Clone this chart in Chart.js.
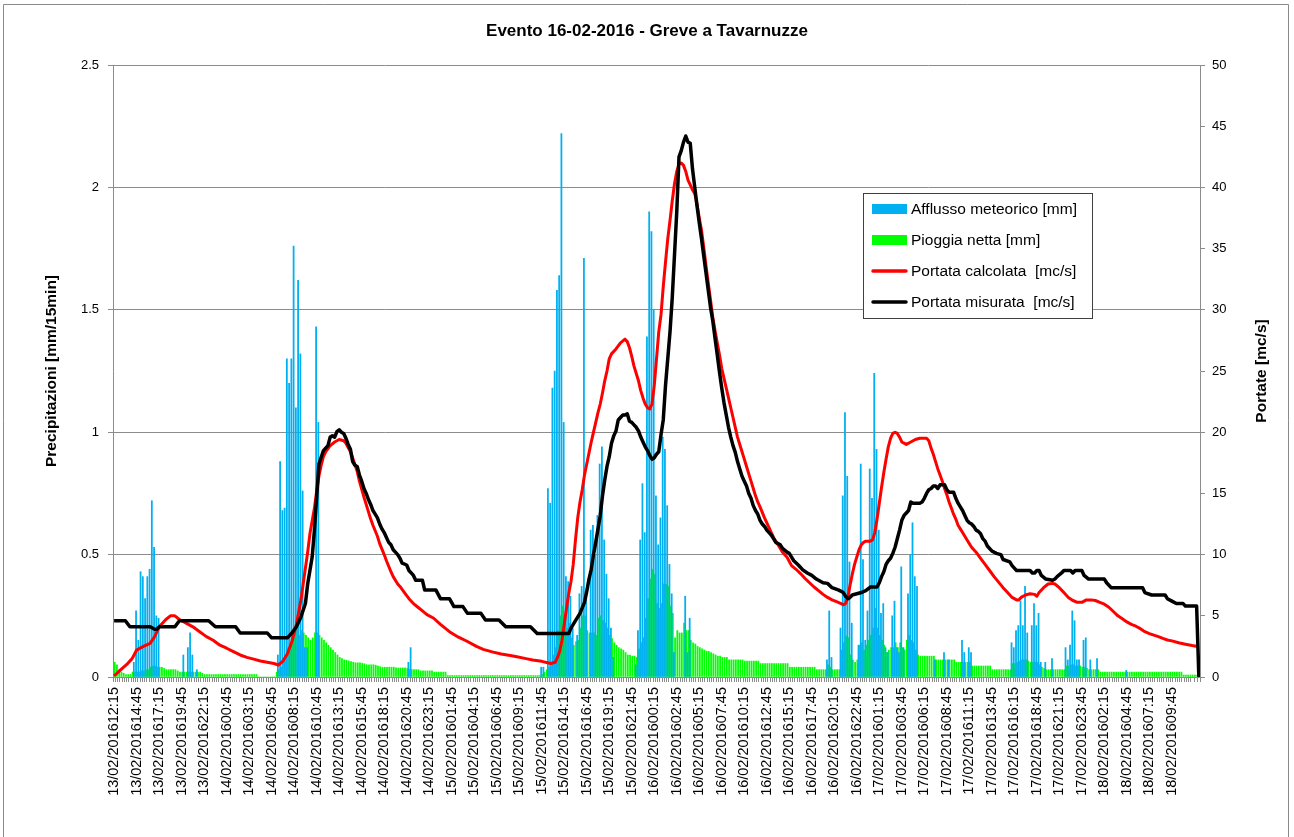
<!DOCTYPE html>
<html>
<head>
<meta charset="utf-8">
<title>Evento 16-02-2016 - Greve a Tavarnuzze</title>
<script src="https://cdn.jsdelivr.net/npm/chart.js@4.4.0/dist/chart.umd.min.js"></script>
<style>
  html, body { margin: 0; padding: 0; background: #fff; }
  canvas { display: block; }
</style>
</head>
<body>
<canvas id="hydrograph" width="1294" height="837"></canvas>
<script>
const FONT = '"Liberation Sans", Arial, sans-serif'
const AXIS_GREY = '#8c8c8c'

// 15-minute steps from 13/02/2016 12:15 to 18/02/2016 12:45
const N_STEPS = 483

// one label every 10 steps
const tickLabels = [
  '13/02/201612:15', '13/02/201614:45', '13/02/201617:15', '13/02/201619:45', '13/02/201622:15',
  '14/02/201600:45', '14/02/201603:15', '14/02/201605:45', '14/02/201608:15', '14/02/201610:45',
  '14/02/201613:15', '14/02/201615:45', '14/02/201618:15', '14/02/201620:45', '14/02/201623:15',
  '15/02/201601:45', '15/02/201604:15', '15/02/201606:45', '15/02/201609:15', '15/02/201611:45',
  '15/02/201614:15', '15/02/201616:45', '15/02/201619:15', '15/02/201621:45',
  '16/02/201600:15', '16/02/201602:45', '16/02/201605:15', '16/02/201607:45', '16/02/201610:15',
  '16/02/201612:45', '16/02/201615:15', '16/02/201617:45', '16/02/201620:15', '16/02/201622:45',
  '17/02/201601:15', '17/02/201603:45', '17/02/201606:15', '17/02/201608:45', '17/02/201611:15',
  '17/02/201613:45', '17/02/201616:15', '17/02/201618:45', '17/02/201621:15', '17/02/201623:45',
  '18/02/201602:15', '18/02/201604:45', '18/02/201607:15', '18/02/201609:45'
]

// afflusso meteorico [mm/15min]: [first step, consecutive values]
const afflussoRuns = [
  [9, [0.06, 0.27, 0.15, 0.43, 0.41, 0.32, 0.41, 0.44, 0.72, 0.53, 0.25, 0.24]],
  [31, [0.09, 0, 0.12, 0.18, 0.09, 0, 0.03]],
  [73, [0.09, 0.88, 0.68, 0.69, 1.30, 1.20, 1.30, 1.76, 1.10, 1.62, 1.32, 0.76, 0.12, 0.12, 0, 0, 0, 1.43, 1.04]],
  [131, [0.06, 0.12]],
  [190, [0.04, 0.04, 0, 0.77, 0.71, 1.18, 1.25, 1.58, 1.64, 2.22, 1.04, 0.41, 0.39, 0.33, 0.20, 0, 0.17,
         0.34, 0.37, 1.71, 0.35, 0, 0.60, 0.62, 0.50, 0.66, 0.87, 0.94, 0.56, 0.42, 0.32, 0.20, 0.08]],
  [232, [0.05, 0.19, 0.56, 0.79, 0.59, 1.39, 1.90, 1.82, 1.50, 0.74, 0.54, 0.65, 0.98, 0.93, 0.70, 0.46, 0.34, 0.10]],
  [254, [0.33, 0.10, 0.24]],
  [317, [0.07, 0.27, 0.08]],
  [323, [0.20, 0.74, 1.08, 0.82, 0.47, 0.22]],
  [331, [0.13, 0.87, 0.48, 0.15, 0.27, 0.85, 0.73, 1.24, 0.93, 0.60, 0.26, 0.30, 0.12, 0.10, 0, 0.25,
         0.31, 0.12, 0.10, 0.45, 0.12, 0, 0.34, 0.50, 0.63, 0.41, 0.37]],
  [365, [0.07]], [369, [0.10]], [371, [0.07]],
  [377, [0.15, 0.10, 0, 0.12, 0.10]],
  [399, [0.14, 0.12, 0.19, 0.21, 0.31, 0.21, 0.37, 0.18, 0, 0.21, 0.30, 0.21, 0.26, 0.06, 0, 0.06]],
  [417, [0.075]],
  [423, [0.12, 0.07, 0.13, 0.27, 0.23, 0.07, 0.07, 0, 0.15, 0.16, 0, 0.07]],
  [437, [0.075]], [450, [0.027]]
]

// pioggia netta [mm/15min], one value per step
const pioggiaNetta = [
  0.06, 0.05, 0.03, 0.02, 0.015, 0.01, 0.01, 0.01, 0.02, 0.02,
  0.02, 0.02, 0.025, 0.025, 0.03, 0.03, 0.04, 0.045, 0.045, 0.04,
  0.04, 0.04, 0.035, 0.03, 0.03, 0.03, 0.03, 0.03, 0.025, 0.02,
  0.02, 0.02, 0.02, 0.02, 0.02, 0.02, 0.02, 0.02, 0.02, 0.015,
  0.01, 0.01, 0.01, 0.01, 0.01, 0.01, 0.01, 0.01, 0.01, 0.01,
  0.01, 0.01, 0.01, 0.01, 0.01, 0.01, 0.01, 0.01, 0.01, 0.01,
  0.01, 0.01, 0.01, 0.01, 0, 0, 0, 0, 0, 0,
  0, 0, 0.02, 0.03, 0.04, 0.06, 0.09, 0.12, 0.14, 0.16,
  0.19, 0.20, 0.17, 0.19, 0.18, 0.17, 0.16, 0.15, 0.16, 0.18,
  0.18, 0.17, 0.16, 0.15, 0.14, 0.13, 0.12, 0.11, 0.10, 0.09,
  0.08, 0.075, 0.07, 0.068, 0.066, 0.063, 0.06, 0.058, 0.058, 0.058,
  0.056, 0.054, 0.05, 0.05, 0.05, 0.05, 0.048, 0.045, 0.042, 0.04,
  0.04, 0.04, 0.04, 0.04, 0.04, 0.037, 0.037, 0.037, 0.037, 0.037,
  0.035, 0.032, 0.03, 0.03, 0.03, 0.03, 0.025, 0.025, 0.025, 0.025,
  0.025, 0.025, 0.02, 0.02, 0.02, 0.02, 0.02, 0.02, 0.006, 0.006,
  0.006, 0.006, 0.006, 0.006, 0.006, 0.006, 0.006, 0.006, 0.006, 0.006,
  0.006, 0.006, 0.006, 0.006, 0.006, 0.006, 0.006, 0.006, 0.006, 0.006,
  0.006, 0.006, 0.006, 0.006, 0.006, 0.006, 0.006, 0.006, 0.006, 0.006,
  0.006, 0.006, 0.006, 0.006, 0.006, 0.006, 0.006, 0.006, 0.006, 0.006,
  0.01, 0.02, 0.03, 0.04, 0.05, 0.09, 0.12, 0.19, 0.25, 0.29,
  0.24, 0.20, 0.22, 0.16, 0.13, 0.145, 0.15, 0.20, 0.25, 0.25,
  0.19, 0.18, 0.18, 0.18, 0.17, 0.24, 0.25, 0.23, 0.22, 0.20,
  0.17, 0.157, 0.14, 0.13, 0.12, 0.115, 0.11, 0.10, 0.09, 0.09,
  0.085, 0.085, 0.08, 0.115, 0.14, 0.16, 0.24, 0.32, 0.40, 0.44,
  0.42, 0.30, 0.28, 0.30, 0.38, 0.38, 0.37, 0.29, 0.26, 0.16,
  0.19, 0.18, 0.18, 0.22, 0.19, 0.19, 0.15, 0.14, 0.135, 0.125,
  0.12, 0.115, 0.11, 0.105, 0.105, 0.10, 0.095, 0.09, 0.085, 0.085,
  0.08, 0.08, 0.08, 0.07, 0.07, 0.07, 0.07, 0.07, 0.07, 0.07,
  0.065, 0.065, 0.065, 0.065, 0.065, 0.065, 0.065, 0.055, 0.055, 0.055,
  0.055, 0.055, 0.055, 0.055, 0.055, 0.055, 0.055, 0.055, 0.055, 0.055,
  0.04, 0.04, 0.04, 0.04, 0.04, 0.04, 0.04, 0.04, 0.04, 0.04,
  0.04, 0.04, 0.03, 0.03, 0.03, 0.03, 0.03, 0.05, 0.04, 0.03,
  0.03, 0.03, 0.03, 0.11, 0.14, 0.167, 0.16, 0.09, 0.07, 0.06,
  0.07, 0.13, 0.14, 0.11, 0.13, 0.15, 0.17, 0.20, 0.28, 0.20,
  0.17, 0.15, 0.13, 0.10, 0.11, 0.12, 0.12, 0.14, 0.12, 0.14,
  0.12, 0.11, 0.15, 0.17, 0.15, 0.14, 0.11, 0.09, 0.085, 0.085,
  0.085, 0.085, 0.085, 0.085, 0.085, 0.07, 0.07, 0.07, 0.07, 0.07,
  0.07, 0.07, 0.07, 0.07, 0.06, 0.06, 0.06, 0.06, 0.06, 0.06,
  0.06, 0.045, 0.045, 0.045, 0.045, 0.045, 0.045, 0.045, 0.045, 0.045,
  0.03, 0.03, 0.03, 0.03, 0.03, 0.03, 0.03, 0.03, 0.03, 0.055,
  0.055, 0.06, 0.065, 0.07, 0.07, 0.07, 0.065, 0.06, 0.06, 0.06,
  0.06, 0.05, 0.04, 0.035, 0.03, 0.03, 0.03, 0.03, 0.03, 0.03,
  0.03, 0.03, 0.03, 0.045, 0.045, 0.05, 0.05, 0.045, 0.045, 0.045,
  0.04, 0.04, 0.035, 0.03, 0.03, 0.03, 0.03, 0.03, 0.02, 0.02,
  0.02, 0.02, 0.02, 0.02, 0.02, 0.02, 0.02, 0.02, 0.02, 0.02,
  0.02, 0.02, 0.02, 0.02, 0.02, 0.02, 0.02, 0.02, 0.02, 0.02,
  0.02, 0.02, 0.02, 0.02, 0.02, 0.02, 0.02, 0.02, 0.02, 0.02,
  0.02, 0.02, 0.02, 0.02, 0.02, 0.008, 0.008, 0.008, 0.008, 0.008,
  0.008, 0.008, 0.008
]

// portata calcolata [mc/s]: [step, value]
const portataCalcolata = [
  [0, 0.1], [3, 0.6], [6, 1.1], [8, 1.5], [10, 2.2], [13, 2.5], [16, 2.75], [18, 3.3], [20, 4.1], [23, 4.7],
  [25, 5.0], [27, 5.0], [29, 4.7], [32, 4.4], [35, 4.1], [38, 3.7], [41, 3.3], [44, 3.0], [47, 2.6], [50, 2.35],
  [53, 2.07], [56, 1.8], [59, 1.6], [62, 1.46], [65, 1.31], [68, 1.2], [71, 1.1], [73, 0.98], [75, 1.3], [77, 1.9],
  [79, 2.9], [81, 4.3], [83, 6.3], [84, 7.6], [86, 10.2], [87, 11.7], [89, 13.8], [90, 15.2], [91, 16.4], [92, 17.3],
  [93, 18.0], [94, 18.4], [96, 18.9], [98, 19.2], [100, 19.4], [102, 19.3], [103, 19.1], [105, 18.4], [106, 17.9],
  [108, 16.8], [109, 16.0], [111, 14.7], [112, 14.1], [114, 12.9], [115, 12.4], [117, 11.5], [118, 10.9], [120, 10.0],
  [121, 9.5], [123, 8.6], [124, 8.2], [126, 7.6], [127, 7.4], [129, 6.9], [131, 6.4], [133, 6.0], [135, 5.7],
  [137, 5.4], [139, 5.1], [142, 4.8], [145, 4.3], [149, 3.7], [153, 3.25], [157, 2.9], [161, 2.5], [164, 2.26],
  [168, 2.05], [172, 1.88], [176, 1.75], [179, 1.65], [183, 1.5], [186, 1.39], [190, 1.28], [194, 1.1], [196, 1.2],
  [197, 1.6], [198, 2.1], [199, 3.0], [200, 4.3], [201, 5.6], [202, 6.8], [203, 7.8], [204, 9.2], [205, 11.2],
  [206, 13.0], [207, 14.3], [208, 15.3], [209, 16.5], [210, 17.4], [211, 18.3], [212, 19.2], [213, 20.0], [214, 20.8],
  [215, 21.6], [216, 22.3], [217, 23.2], [218, 24.2], [219, 25.0], [220, 26.0], [221, 26.4], [223, 26.8], [225, 27.3],
  [227, 27.6], [228, 27.4], [229, 26.9], [230, 26.2], [231, 25.4], [232, 24.8], [233, 24.2], [234, 23.4], [235, 22.8],
  [236, 22.3], [237, 22.0], [238, 21.9], [239, 22.3], [240, 23.8], [241, 26.0], [242, 28.2], [243, 29.6], [244, 31.9],
  [245, 33.9], [246, 35.8], [247, 37.3], [248, 38.9], [249, 40.3], [250, 41.3], [251, 41.9], [252, 42.0], [253, 41.8],
  [254, 41.3], [255, 40.6], [256, 40.2], [257, 39.8], [258, 39.5], [259, 38.6], [260, 37.5], [261, 36.5], [262, 35.1],
  [263, 33.6], [264, 32.2], [265, 30.8], [266, 29.4], [267, 28.3], [268, 27.3], [269, 26.3], [270, 25.2], [271, 24.4],
  [272, 23.6], [273, 22.8], [274, 22.0], [275, 21.2], [276, 20.4], [277, 19.6], [278, 19.0], [279, 18.4], [280, 17.8],
  [281, 17.2], [282, 16.6], [283, 16.0], [284, 15.4], [285, 14.8], [286, 14.3], [287, 13.9], [289, 13.0], [291, 12.2],
  [293, 11.4], [295, 10.8], [297, 10.2], [299, 9.78], [301, 9.1], [303, 8.8], [305, 8.45], [307, 8.05], [309, 7.7],
  [311, 7.35], [313, 7.05], [315, 6.75], [317, 6.5], [319, 6.3], [321, 6.15], [323, 6.0], [324, 5.9], [325, 6.0],
  [326, 6.5], [327, 7.5], [328, 8.4], [329, 9.2], [330, 9.8], [331, 10.4], [332, 10.8], [333, 11.0], [334, 11.1],
  [336, 11.1], [337, 11.2], [338, 11.8], [339, 12.9], [340, 14.2], [341, 15.5], [342, 16.7], [343, 17.8], [344, 18.8],
  [345, 19.5], [346, 19.9], [347, 20.0], [348, 19.9], [349, 19.6], [350, 19.2], [352, 19.0], [354, 19.2], [356, 19.4],
  [358, 19.5], [361, 19.5], [362, 19.3], [363, 18.7], [364, 18.2], [365, 17.6], [366, 17.0], [367, 16.5], [368, 16.0],
  [369, 15.4], [370, 14.9], [371, 14.3], [372, 13.8], [373, 13.3], [374, 12.9], [375, 12.4], [376, 12.1], [377, 11.8],
  [379, 11.2], [381, 10.6], [383, 10.2], [385, 9.7], [387, 9.2], [389, 8.7], [391, 8.2], [393, 7.75], [395, 7.3],
  [397, 6.9], [399, 6.5], [401, 6.3], [402, 6.3], [403, 6.5], [405, 6.7], [407, 6.8], [409, 6.75], [410, 6.6],
  [411, 6.9], [413, 7.3], [415, 7.6], [417, 7.65], [418, 7.6], [420, 7.3], [422, 6.9], [424, 6.5], [426, 6.25],
  [428, 6.1], [430, 6.1], [432, 6.3], [434, 6.3], [436, 6.25], [438, 6.1], [440, 5.95], [442, 5.7], [444, 5.35],
  [446, 5.0], [448, 4.75], [450, 4.5], [452, 4.3], [454, 4.15], [456, 3.95], [458, 3.7], [460, 3.55], [462, 3.42],
  [464, 3.3], [466, 3.15], [468, 3.02], [470, 2.95], [473, 2.8], [476, 2.68], [479, 2.57], [482, 2.48]
]

// portata misurata [mc/s]: [step, value]
const portataMisurata = [
  [0, 4.6], [5, 4.6], [7, 4.1], [16, 4.1], [18, 3.9], [19, 3.9], [20, 4.1], [27, 4.1], [29, 4.6], [42, 4.6],
  [45, 4.1], [54, 4.1], [56, 3.6], [68, 3.6], [70, 3.2], [77, 3.2], [79, 3.6], [81, 4.1], [83, 4.9], [85, 6.0],
  [86, 7.6], [88, 9.8], [89, 12.0], [90, 14.7], [91, 17.4], [93, 18.5], [95, 18.9], [96, 19.6], [97, 19.7],
  [98, 19.6], [99, 20.05], [100, 20.2], [101, 20.0], [102, 19.9], [103, 19.5], [104, 19.0], [105, 18.6], [106, 17.6],
  [107, 17.3], [108, 17.2], [109, 16.5], [110, 16.0], [111, 15.4], [112, 15.0], [113, 14.5], [114, 14.1], [115, 13.6],
  [116, 13.3], [117, 13.0], [118, 12.5], [119, 12.1], [120, 11.8], [121, 11.4], [122, 11.0], [123, 10.8], [124, 10.4],
  [125, 10.2], [126, 10.0], [127, 9.7], [128, 9.3], [130, 9.15], [131, 8.7], [133, 8.3], [134, 7.9], [137, 7.9],
  [138, 7.1], [143, 7.1], [145, 6.4], [149, 6.4], [151, 5.75], [155, 5.75], [157, 5.2], [163, 5.2], [165, 4.65],
  [171, 4.65], [174, 4.1], [185, 4.1], [188, 3.55], [202, 3.55], [203, 4.0], [205, 4.6], [207, 5.2], [209, 6.1],
  [210, 7.0], [211, 8.0], [212, 8.8], [213, 10.0], [214, 11.0], [215, 12.1], [216, 13.2], [217, 14.8], [218, 16.1],
  [219, 17.2], [220, 18.0], [221, 19.1], [222, 19.7], [223, 20.1], [224, 21.0], [225, 21.2], [226, 21.4], [227, 21.4],
  [228, 21.5], [229, 20.9], [230, 20.8], [231, 20.6], [232, 20.4], [233, 20.1], [234, 19.6], [235, 19.2], [236, 18.8],
  [237, 18.5], [238, 18.1], [239, 17.8], [240, 17.9], [241, 18.2], [242, 18.4], [243, 19.8], [244, 21.0], [245, 23.8],
  [246, 26.0], [247, 28.2], [248, 31.0], [249, 34.5], [250, 38.0], [251, 42.5], [252, 43.0], [253, 43.7], [254, 44.2],
  [255, 43.7], [256, 43.6], [257, 41.5], [258, 40.0], [259, 38.5], [260, 37.1], [261, 35.8], [262, 34.4], [263, 33.0],
  [264, 31.6], [265, 30.2], [266, 29.1], [267, 27.7], [268, 26.3], [269, 24.9], [270, 23.6], [271, 22.4], [272, 21.4],
  [273, 20.4], [274, 19.6], [275, 18.9], [276, 18.35], [277, 17.6], [278, 17.0], [279, 16.4], [280, 16.0], [281, 15.6],
  [282, 15.0], [283, 14.6], [284, 14.0], [285, 13.6], [286, 13.3], [287, 12.8], [288, 12.5], [289, 12.3], [290, 12.0],
  [291, 11.8], [292, 11.6], [293, 11.3], [294, 11.0], [296, 10.8], [297, 10.5], [299, 10.2], [300, 10.1], [301, 9.8],
  [302, 9.5], [304, 9.15], [306, 8.75], [308, 8.5], [310, 8.3], [312, 8.0], [313, 7.9], [315, 7.7], [317, 7.65],
  [319, 7.3], [322, 7.1], [324, 6.9], [325, 6.6], [326, 6.4], [327, 6.5], [328, 6.7], [330, 6.8], [332, 6.9],
  [334, 7.05], [336, 7.35], [339, 7.35], [340, 7.7], [341, 8.2], [342, 8.6], [343, 9.2], [344, 9.5], [345, 9.7],
  [346, 10.1], [347, 10.6], [348, 11.3], [349, 12.0], [350, 12.8], [351, 13.2], [352, 13.4], [353, 13.6], [354, 14.3],
  [355, 14.2], [358, 14.2], [359, 14.3], [360, 14.6], [361, 15.0], [362, 15.3], [363, 15.4], [364, 15.6], [365, 15.6],
  [366, 15.4], [367, 15.7], [369, 15.7], [370, 15.3], [371, 15.1], [373, 15.1], [374, 14.6], [375, 14.2], [376, 13.9],
  [377, 13.6], [378, 13.2], [379, 12.8], [380, 12.6], [381, 12.5], [382, 12.3], [383, 12.0], [384, 11.9], [385, 11.7],
  [386, 11.3], [387, 11.1], [388, 10.7], [389, 10.5], [390, 10.3], [392, 10.1], [394, 10.0], [395, 9.6], [398, 9.4],
  [399, 9.1], [400, 8.9], [401, 8.7], [407, 8.7], [408, 8.5], [409, 8.5], [410, 8.7], [411, 8.7], [412, 8.3],
  [414, 8.0], [417, 7.9], [418, 8.0], [419, 8.2], [421, 8.5], [422, 8.7], [425, 8.7], [426, 8.5], [427, 8.7],
  [430, 8.7], [431, 8.3], [433, 8.0], [440, 8.0], [441, 7.7], [443, 7.3], [457, 7.3], [458, 6.9], [461, 6.7],
  [467, 6.7], [468, 6.4], [470, 6.2], [472, 6.0], [475, 6.0], [476, 5.8], [481, 5.8], [482, 0]
]

const afflussoPoints = []
afflussoRuns.forEach(([start, values]) => {
  values.forEach((v, k) => { if (v > 0) afflussoPoints.push({x: start + k, y: v}) })
})
const pioggiaPoints = pioggiaNetta.map((v, i) => ({x: i, y: v}))
const toPoints = pairs => pairs.map(([x, y]) => ({x, y}))

// white page with the chart frame
const chartFrame = {
  id: 'chartFrame',
  beforeDraw(chart) {
    const {ctx, width, height} = chart
    ctx.save()
    ctx.fillStyle = '#fff'
    ctx.fillRect(0, 0, width, height)
    ctx.strokeStyle = '#8a8a8a'
    ctx.lineWidth = 1
    ctx.beginPath()
    ctx.moveTo(3.5, height)
    ctx.lineTo(3.5, 4.5)
    ctx.lineTo(width - 5.5, 4.5)
    ctx.lineTo(width - 5.5, height)
    ctx.stroke()
    ctx.restore()
  }
}

// boxed legend inside the plot
const legendBox = {
  id: 'legendBox',
  afterDatasetsDraw(chart) {
    const ctx = chart.ctx
    const box = {x: 863.5, y: 193.5, w: 229, h: 125}
    ctx.save()
    ctx.fillStyle = '#fff'
    ctx.fillRect(box.x, box.y, box.w, box.h)
    ctx.strokeStyle = '#404040'
    ctx.lineWidth = 1
    ctx.strokeRect(box.x, box.y, box.w, box.h)
    ctx.font = '15.5px ' + FONT
    ctx.textBaseline = 'middle'
    chart.data.datasets.forEach((ds, k) => {
      const rowY = 209 + k * 31
      if (ds.type === 'bar') {
        ctx.fillStyle = ds.backgroundColor
        ctx.fillRect(872, rowY - 5, 35, 10)
      } else {
        ctx.strokeStyle = ds.borderColor
        ctx.lineWidth = 3.5
        ctx.lineCap = 'round'
        ctx.beginPath()
        ctx.moveTo(873, rowY)
        ctx.lineTo(906, rowY)
        ctx.stroke()
      }
      ctx.fillStyle = '#000'
      ctx.fillText(ds.label, 911, rowY + 1)
    })
    ctx.restore()
  }
}

// right axis title, read bottom to top like the left one
const rightTitle = {
  id: 'rightTitle',
  afterDraw(chart) {
    const {ctx, chartArea} = chart
    ctx.save()
    ctx.translate(chart.scales.y2.right - 32, (chartArea.top + chartArea.bottom) / 2)
    ctx.rotate(-Math.PI / 2)
    ctx.font = 'bold 15.5px ' + FONT
    ctx.fillStyle = '#000'
    ctx.textAlign = 'center'
    ctx.textBaseline = 'middle'
    ctx.fillText('Portate [mc/s]', 0, 0)
    ctx.restore()
  }
}

const barStyle = {type: 'bar', yAxisID: 'y', categoryPercentage: 1, barPercentage: 1}

new Chart(document.getElementById('hydrograph'), {
  type: 'bar',
  data: {
    datasets: [
      {...barStyle, label: 'Afflusso meteorico [mm]', data: afflussoPoints, backgroundColor: '#00B0F0', order: 2},
      {...barStyle, label: 'Pioggia netta [mm]', data: pioggiaPoints, backgroundColor: '#00FF00', order: 3},
      {type: 'line', label: 'Portata calcolata  [mc/s]', data: toPoints(portataCalcolata), yAxisID: 'y2',
       borderColor: '#FF0000', borderWidth: 3, pointRadius: 0, tension: 0, borderJoinStyle: 'round', order: 1},
      {type: 'line', label: 'Portata misurata  [mc/s]', data: toPoints(portataMisurata), yAxisID: 'y2',
       borderColor: '#000000', borderWidth: 3.5, pointRadius: 0, tension: 0, borderJoinStyle: 'round', order: 0}
    ]
  },
  options: {
    responsive: false,
    animation: false,
    events: [],
    layout: {padding: 0},
    plugins: {
      legend: {display: false},
      tooltip: {enabled: false},
      title: {
        display: true,
        text: 'Evento 16-02-2016 - Greve a Tavarnuzze',
        color: '#000',
        font: {family: FONT, size: 17, weight: 'bold'},
        padding: {top: 21, bottom: 23.6}
      }
    },
    scales: {
      x: {
        type: 'linear',
        min: -0.5,
        max: N_STEPS - 0.5,
        offset: false,
        afterBuildTicks: axis => {
          axis.ticks = Array.from({length: N_STEPS}, (_, i) => ({value: i}))
        },
        afterFit: axis => { axis.height = 160 },
        grid: {offset: true, drawOnChartArea: false, tickLength: 5, color: AXIS_GREY},
        border: {color: AXIS_GREY},
        ticks: {
          autoSkip: false,
          minRotation: 90,
          maxRotation: 90,
          padding: 5,
          color: '#000',
          font: {family: FONT, size: 14.5},
          callback: v => (v % 10 === 0 ? tickLabels[v / 10] : '')
        }
      },
      y: {
        position: 'left',
        min: 0,
        max: 2.5,
        afterFit: axis => { axis.width = 113 },
        grid: {color: AXIS_GREY, tickLength: 5},
        border: {color: AXIS_GREY},
        ticks: {stepSize: 0.5, padding: 9, color: '#000', font: {family: FONT, size: 13}, callback: v => String(v)},
        title: {
          display: true,
          text: 'Precipitazioni [mm/15min]',
          color: '#000',
          font: {family: FONT, size: 15.5, weight: 'bold'},
          padding: {top: 42.7, bottom: 0}
        }
      },
      y2: {
        position: 'right',
        min: 0,
        max: 50,
        afterFit: axis => { axis.width = 94 },
        grid: {drawOnChartArea: false, tickLength: 5, color: AXIS_GREY},
        border: {color: AXIS_GREY},
        ticks: {stepSize: 5, padding: 7, color: '#000', font: {family: FONT, size: 13}}
      }
    }
  },
  plugins: [chartFrame, legendBox, rightTitle]
})
</script>
</body>
</html>
